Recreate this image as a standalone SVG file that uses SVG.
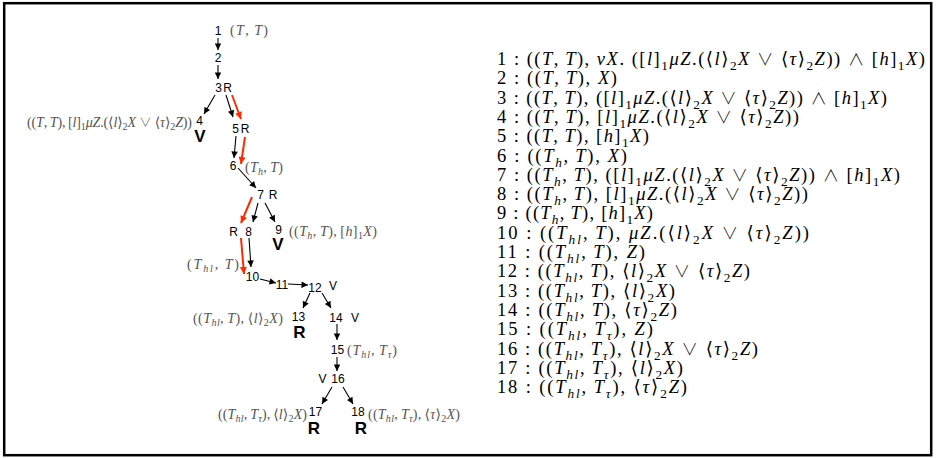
<svg xmlns="http://www.w3.org/2000/svg" width="937" height="458" viewBox="0 0 937 458">
  <defs>
    <style>
      .n { font-family: "Liberation Sans", Arial, sans-serif; font-size: 12px; fill: #000; text-anchor: middle; }
      .big { font-family: "Liberation Sans", Arial, sans-serif; font-size: 17px; font-weight: bold; fill: #000; text-anchor: middle; }
      .lab { font-family: "Liberation Serif", "DejaVu Serif", serif; font-size: 14px; fill: #555; }
      .f { font-family: "Liberation Serif", "DejaVu Serif", serif; font-size: 18.5px; fill: #000; }
      .i { font-style: italic; }
      .s { font-size: 72%; }
      .f .s { baseline-shift: -4.5px; }
      .lab .s { baseline-shift: -3px; }
      .op { font-family: "Noto Sans CJK JP", "DejaVu Sans", sans-serif; font-weight: 300; font-size: 88%; }
      .e { stroke: #000; stroke-width: 1.1; fill: none; marker-end: url(#ah); }
      .r { stroke: #ff2a00; stroke-width: 2; fill: none; marker-end: url(#ahr); }
    </style>
    <marker id="ah" viewBox="0 0 10 10" refX="10" refY="5" markerWidth="8" markerHeight="6.5" markerUnits="userSpaceOnUse" orient="auto">
      <path d="M0,0 L10,5 L0,10 z" fill="#000"/>
    </marker>
    <marker id="ahr" viewBox="0 0 10 10" refX="10" refY="5" markerWidth="9" markerHeight="7" markerUnits="userSpaceOnUse" orient="auto">
      <path d="M0,0 L10,5 L0,10 z" fill="#ff2a00"/>
    </marker>
  </defs>

  <rect x="0" y="0" width="937" height="458" fill="#fff"/>
  <rect x="4.2" y="3.2" width="927" height="452" fill="none" stroke="#000" stroke-width="2.5"/>

  <!-- proof-tree edges -->
  <g id="connectors">
    <line class="e" x1="218" y1="38" x2="218" y2="50"/>
    <line class="e" x1="218" y1="65" x2="218" y2="79"/>
    <line class="e" x1="215" y1="95" x2="204" y2="114"/>
    <line class="e" x1="226" y1="95" x2="233" y2="117"/>
    <line class="r" x1="232" y1="95" x2="241" y2="119"/>
    <line class="e" x1="236" y1="136" x2="234" y2="158"/>
    <line class="r" x1="245" y1="137" x2="241" y2="164"/>
    <line class="e" x1="238" y1="168" x2="256" y2="188"/>
    <line class="r" x1="252" y1="197" x2="241" y2="223"/>
    <line class="e" x1="258" y1="203" x2="253" y2="222"/>
    <line class="e" x1="265" y1="203" x2="275" y2="222"/>
    <line class="r" x1="241" y1="238" x2="244" y2="274"/>
    <line class="e" x1="249" y1="238" x2="251" y2="267"/>
    <line class="e" x1="260" y1="279" x2="276" y2="283"/>
    <line class="e" x1="288" y1="284" x2="308" y2="285"/>
    <line class="e" x1="310" y1="293" x2="303" y2="308"/>
    <line class="e" x1="322" y1="293" x2="331" y2="308"/>
    <line class="e" x1="337" y1="324" x2="337" y2="340"/>
    <line class="e" x1="337" y1="357" x2="337" y2="371"/>
    <line class="e" x1="332" y1="387" x2="322" y2="404"/>
    <line class="e" x1="343" y1="387" x2="353" y2="404"/>
  </g>

  <!-- proof-tree nodes -->
  <g id="n1">
    <text class="n" x="218" y="35">1</text>
    <text class="lab" x="230" y="35" textLength="38">(<tspan class="i">T</tspan>,&#8201;<tspan class="i">T</tspan>)</text>
  </g>
  <g id="n2"><text class="n" x="218" y="62">2</text></g>
  <g id="n3">
    <text class="n" x="218.5" y="92">3</text>
    <text class="n" x="227.5" y="92">R</text>
  </g>
  <g id="n4">
    <text class="n" x="199.5" y="125">4</text>
    <text class="big" x="200" y="142">V</text>
    <text class="lab" x="192" y="127" text-anchor="end" textLength="165">((<tspan class="i">T</tspan>,&#8201;<tspan class="i">T</tspan>),&#8201;[<tspan class="i">l</tspan>]<tspan class="s">1</tspan><tspan class="i">μZ</tspan>.(⟨<tspan class="i">l</tspan>⟩<tspan class="s">2</tspan><tspan class="i">X</tspan> <tspan class="op">∨</tspan> ⟨<tspan class="i">τ</tspan>⟩<tspan class="s">2</tspan><tspan class="i">Z</tspan>))</text>
  </g>
  <g id="n5">
    <text class="n" x="235.5" y="133">5</text>
    <text class="n" x="245" y="133">R</text>
  </g>
  <g id="n6">
    <text class="n" x="233" y="170">6</text>
    <text class="lab" x="245" y="172" textLength="38">(<tspan class="i">T</tspan><tspan class="i s">h</tspan>,&#8201;<tspan class="i">T</tspan>)</text>
  </g>
  <g id="n7">
    <text class="n" x="260.5" y="199">7</text>
    <text class="n" x="273" y="199">R</text>
  </g>
  <g id="n8">
    <text class="n" x="233.5" y="236">R</text>
    <text class="n" x="248.5" y="236">8</text>
  </g>
  <g id="n9">
    <text class="n" x="278.5" y="234">9</text>
    <text class="big" x="278" y="250">V</text>
    <text class="lab" x="289" y="236" textLength="88">((<tspan class="i">T</tspan><tspan class="i s">h</tspan>,&#8201;<tspan class="i">T</tspan>),&#8201;[<tspan class="i">h</tspan>]<tspan class="s">1</tspan><tspan class="i">X</tspan>)</text>
  </g>
  <g id="n10">
    <text class="n" x="252.5" y="281">10</text>
    <text class="lab" x="239" y="269" text-anchor="end" textLength="52">(<tspan class="i">T</tspan><tspan class="i s">hl</tspan>,&#8201;<tspan class="i">T</tspan>)</text>
  </g>
  <g id="n11"><text class="n" x="282" y="289">11</text></g>
  <g id="n12">
    <text class="n" x="315" y="292">12</text>
    <text class="n" x="333" y="290">V</text>
  </g>
  <g id="n13">
    <text class="n" x="298.5" y="321">13</text>
    <text class="big" x="299.5" y="338">R</text>
    <text class="lab" x="283" y="323" text-anchor="end" textLength="90">((<tspan class="i">T</tspan><tspan class="i s">hl</tspan>,&#8201;<tspan class="i">T</tspan>),&#8201;⟨<tspan class="i">l</tspan>⟩<tspan class="s">2</tspan><tspan class="i">X</tspan>)</text>
  </g>
  <g id="n14">
    <text class="n" x="336" y="322">14</text>
    <text class="n" x="355" y="322">V</text>
  </g>
  <g id="n15">
    <text class="n" x="337.5" y="354">15</text>
    <text class="lab" x="347" y="355" textLength="50">(<tspan class="i">T</tspan><tspan class="i s">hl</tspan>,&#8201;<tspan class="i">T</tspan><tspan class="i s">τ</tspan>)</text>
  </g>
  <g id="n16">
    <text class="n" x="322.5" y="383">V</text>
    <text class="n" x="338" y="383">16</text>
  </g>
  <g id="n17">
    <text class="n" x="315.5" y="416">17</text>
    <text class="big" x="314" y="434">R</text>
    <text class="lab" x="307" y="419" text-anchor="end" textLength="89">((<tspan class="i">T</tspan><tspan class="i s">hl</tspan>,&#8201;<tspan class="i">T</tspan><tspan class="i s">τ</tspan>),&#8201;⟨<tspan class="i">l</tspan>⟩<tspan class="s">2</tspan><tspan class="i">X</tspan>)</text>
  </g>
  <g id="n18">
    <text class="n" x="358" y="416">18</text>
    <text class="big" x="361" y="434">R</text>
    <text class="lab" x="368" y="419" textLength="92">((<tspan class="i">T</tspan><tspan class="i s">hl</tspan>,&#8201;<tspan class="i">T</tspan><tspan class="i s">τ</tspan>),&#8201;⟨<tspan class="i">τ</tspan>⟩<tspan class="s">2</tspan><tspan class="i">X</tspan>)</text>
  </g>

  <!-- numbered list of node formulas -->
  <g id="legend">
    <text class="f" x="497" y="65" textLength="428">1 : ((<tspan class="i">T</tspan>,&#8201;<tspan class="i">T</tspan>), <tspan class="i">νX</tspan>. ([<tspan class="i">l</tspan>]<tspan class="s">1</tspan><tspan class="i">μZ</tspan>.(⟨<tspan class="i">l</tspan>⟩<tspan class="s">2</tspan><tspan class="i">X</tspan> <tspan class="op">∨</tspan> ⟨<tspan class="i">τ</tspan>⟩<tspan class="s">2</tspan><tspan class="i">Z</tspan>)) <tspan class="op">∧</tspan> [<tspan class="i">h</tspan>]<tspan class="s">1</tspan><tspan class="i">X</tspan>)</text>
    <text class="f" x="497" y="84.3" textLength="120">2 : ((<tspan class="i">T</tspan>,&#8201;<tspan class="i">T</tspan>), <tspan class="i">X</tspan>)</text>
    <text class="f" x="497" y="103.6" textLength="390">3 : ((<tspan class="i">T</tspan>,&#8201;<tspan class="i">T</tspan>), ([<tspan class="i">l</tspan>]<tspan class="s">1</tspan><tspan class="i">μZ</tspan>.(⟨<tspan class="i">l</tspan>⟩<tspan class="s">2</tspan><tspan class="i">X</tspan> <tspan class="op">∨</tspan> ⟨<tspan class="i">τ</tspan>⟩<tspan class="s">2</tspan><tspan class="i">Z</tspan>)) <tspan class="op">∧</tspan> [<tspan class="i">h</tspan>]<tspan class="s">1</tspan><tspan class="i">X</tspan>)</text>
    <text class="f" x="497" y="122.9" textLength="302">4 : ((<tspan class="i">T</tspan>,&#8201;<tspan class="i">T</tspan>), [<tspan class="i">l</tspan>]<tspan class="s">1</tspan><tspan class="i">μZ</tspan>.(⟨<tspan class="i">l</tspan>⟩<tspan class="s">2</tspan><tspan class="i">X</tspan> <tspan class="op">∨</tspan> ⟨<tspan class="i">τ</tspan>⟩<tspan class="s">2</tspan><tspan class="i">Z</tspan>))</text>
    <text class="f" x="497" y="142.2" textLength="152">5 : ((<tspan class="i">T</tspan>,&#8201;<tspan class="i">T</tspan>), [<tspan class="i">h</tspan>]<tspan class="s">1</tspan><tspan class="i">X</tspan>)</text>
    <text class="f" x="497" y="161.5" textLength="130">6 : ((<tspan class="i">T</tspan><tspan class="i s">h</tspan>,&#8201;<tspan class="i">T</tspan>), <tspan class="i">X</tspan>)</text>
    <text class="f" x="497" y="180.8" textLength="403">7 : ((<tspan class="i">T</tspan><tspan class="i s">h</tspan>,&#8201;<tspan class="i">T</tspan>), ([<tspan class="i">l</tspan>]<tspan class="s">1</tspan><tspan class="i">μZ</tspan>.(⟨<tspan class="i">l</tspan>⟩<tspan class="s">2</tspan><tspan class="i">X</tspan> <tspan class="op">∨</tspan> ⟨<tspan class="i">τ</tspan>⟩<tspan class="s">2</tspan><tspan class="i">Z</tspan>)) <tspan class="op">∧</tspan> [<tspan class="i">h</tspan>]<tspan class="s">1</tspan><tspan class="i">X</tspan>)</text>
    <text class="f" x="497" y="200.1" textLength="311">8 : ((<tspan class="i">T</tspan><tspan class="i s">h</tspan>,&#8201;<tspan class="i">T</tspan>), [<tspan class="i">l</tspan>]<tspan class="s">1</tspan><tspan class="i">μZ</tspan>.(⟨<tspan class="i">l</tspan>⟩<tspan class="s">2</tspan><tspan class="i">X</tspan> <tspan class="op">∨</tspan> ⟨<tspan class="i">τ</tspan>⟩<tspan class="s">2</tspan><tspan class="i">Z</tspan>))</text>
    <text class="f" x="497" y="219.4" textLength="156">9 : ((<tspan class="i">T</tspan><tspan class="i s">h</tspan>,&#8201;<tspan class="i">T</tspan>), [<tspan class="i">h</tspan>]<tspan class="s">1</tspan><tspan class="i">X</tspan>)</text>
    <text class="f" x="497" y="238.7" textLength="312">10 : ((<tspan class="i">T</tspan><tspan class="i s">hl</tspan>,&#8201;<tspan class="i">T</tspan>), <tspan class="i">μZ</tspan>.(⟨<tspan class="i">l</tspan>⟩<tspan class="s">2</tspan><tspan class="i">X</tspan> <tspan class="op">∨</tspan> ⟨<tspan class="i">τ</tspan>⟩<tspan class="s">2</tspan><tspan class="i">Z</tspan>))</text>
    <text class="f" x="497" y="258" textLength="148">11 : ((<tspan class="i">T</tspan><tspan class="i s">hl</tspan>,&#8201;<tspan class="i">T</tspan>), <tspan class="i">Z</tspan>)</text>
    <text class="f" x="497" y="277.3" textLength="253">12 : ((<tspan class="i">T</tspan><tspan class="i s">hl</tspan>,&#8201;<tspan class="i">T</tspan>), ⟨<tspan class="i">l</tspan>⟩<tspan class="s">2</tspan><tspan class="i">X</tspan> <tspan class="op">∨</tspan> ⟨<tspan class="i">τ</tspan>⟩<tspan class="s">2</tspan><tspan class="i">Z</tspan>)</text>
    <text class="f" x="497" y="296.6" textLength="178">13 : ((<tspan class="i">T</tspan><tspan class="i s">hl</tspan>,&#8201;<tspan class="i">T</tspan>), ⟨<tspan class="i">l</tspan>⟩<tspan class="s">2</tspan><tspan class="i">X</tspan>)</text>
    <text class="f" x="497" y="315.9" textLength="180">14 : ((<tspan class="i">T</tspan><tspan class="i s">hl</tspan>,&#8201;<tspan class="i">T</tspan>), ⟨<tspan class="i">τ</tspan>⟩<tspan class="s">2</tspan><tspan class="i">Z</tspan>)</text>
    <text class="f" x="497" y="335.2" textLength="156">15 : ((<tspan class="i">T</tspan><tspan class="i s">hl</tspan>,&#8201;<tspan class="i">T</tspan><tspan class="i s">τ</tspan>), <tspan class="i">Z</tspan>)</text>
    <text class="f" x="497" y="354.5" textLength="261">16 : ((<tspan class="i">T</tspan><tspan class="i s">hl</tspan>,&#8201;<tspan class="i">T</tspan><tspan class="i s">τ</tspan>), ⟨<tspan class="i">l</tspan>⟩<tspan class="s">2</tspan><tspan class="i">X</tspan> <tspan class="op">∨</tspan> ⟨<tspan class="i">τ</tspan>⟩<tspan class="s">2</tspan><tspan class="i">Z</tspan>)</text>
    <text class="f" x="497" y="373.8" textLength="186">17 : ((<tspan class="i">T</tspan><tspan class="i s">hl</tspan>,&#8201;<tspan class="i">T</tspan><tspan class="i s">τ</tspan>), ⟨<tspan class="i">l</tspan>⟩<tspan class="s">2</tspan><tspan class="i">X</tspan>)</text>
    <text class="f" x="497" y="393.1" textLength="190">18 : ((<tspan class="i">T</tspan><tspan class="i s">hl</tspan>,&#8201;<tspan class="i">T</tspan><tspan class="i s">τ</tspan>), ⟨<tspan class="i">τ</tspan>⟩<tspan class="s">2</tspan><tspan class="i">Z</tspan>)</text>
  </g>
</svg>
